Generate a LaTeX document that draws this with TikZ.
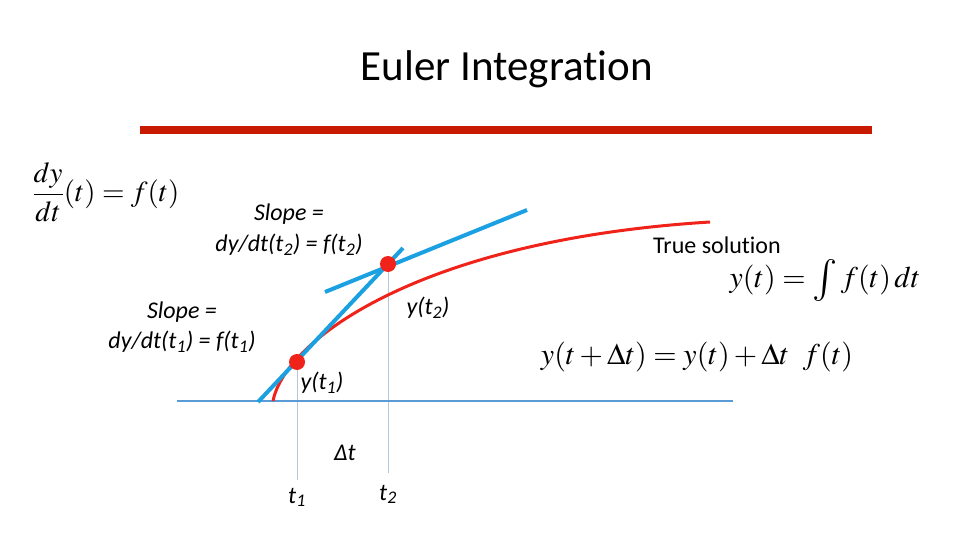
\documentclass[tikz,border=0pt]{standalone}
\usepackage{mathptmx}
\usepackage[no-math]{fontspec}
\setmainfont{Carlito}[Ligatures=NoCommon]
\usetikzlibrary{positioning}
\definecolor{titlered}{HTML}{C81A00}
\definecolor{curvered}{HTML}{F0231A}
\definecolor{tangent}{HTML}{1BA1E2}
\definecolor{axisblue}{HTML}{5B9BD5}
\definecolor{guide}{HTML}{B4C7DD}

\begin{document}
\begin{tikzpicture}[x=1pt,y=-1pt,
  lbl/.style={font=\fontsize{24}{29}\selectfont\itshape,inner sep=0pt,align=center},
  eqn/.style={font=\fontsize{30}{36}\selectfont,inner sep=0pt},
  dot/.style={circle,fill=curvered,minimum size=16pt,inner sep=0pt}]
\useasboundingbox[fill=white] (0,0) rectangle (960,540);

\node[font=\fontsize{43}{50}\selectfont] (title) at (507,69) {Euler Integration};
\coordinate (barL) at (140,130.5);
\coordinate (barR) at (872,130.5);
\draw[titlered,line width=8pt] (barL) -- (barR);

% points on the curve and the guides below them
\coordinate (y1) at (297,362);
\coordinate (y2) at (388,264);
\coordinate (g1) at (297,480);
\coordinate (g2) at (388,473);
\draw[guide,line width=1pt] (y1) -- (g1);
\draw[guide,line width=1pt] (y2) -- (g2);

\coordinate (axL) at (177,401);
\coordinate (axR) at (733,401);
\draw[axisblue,line width=1.5pt] (axL) -- (axR);

% true solution
\coordinate (c0) at (273,401);
\coordinate (c3) at (710,222);
\draw[curvered,line width=3pt] (c0) .. controls (285,340) and (420,240) .. (c3);

% tangents
\coordinate (a1) at (258,402);
\coordinate (b1) at (403,248);
\coordinate (a2) at (325,292);
\coordinate (b2) at (527,210);
\draw[tangent,line width=4pt] (a1) -- (b1);
\draw[tangent,line width=4pt] (a2) -- (b2);

\node[dot] (p1) at (y1) {};
\node[dot] (p2) at (y2) {};

\node[lbl] (slope2) at (289,230) {Slope =\\[2pt] dy/dt(t\textsubscript{2}) = f(t\textsubscript{2})};
\node[lbl] (slope1) at (182,327) {Slope =\\[1pt] dy/dt(t\textsubscript{1}) = f(t\textsubscript{1})};
\node[lbl] (yt2) at (428,308) {y(t\textsubscript{2})};
\node[lbl] (yt1) at (322,383) {y(t\textsubscript{1})};
\node[lbl] (dt) at (345,453) {Δt};
\node[lbl,below=8pt of g1] (t1) {t\textsubscript{1}};
\node[lbl,below=12pt of g2] (t2) {t\textsubscript{2}};

\node[font=\fontsize{24}{29}\selectfont,inner sep=0pt] (truesol) at (717,245) {True solution};
\node[eqn] (integral) at (825,280)
  {$y(t)=\mathop{\vcenter{\hbox{\scalebox{1.4}{$\int$}}}} f(t)\,dt$};
\node[eqn] (euler) at (697,357) {$y(t+\Delta t)=y(t)+\Delta t\ \ f(t)$};
\node[eqn,font=\fontsize{29}{34}\selectfont] (ode) at (106,192) {$\displaystyle\frac{dy}{dt}(t)=f(t)$};
\end{tikzpicture}
\end{document}
